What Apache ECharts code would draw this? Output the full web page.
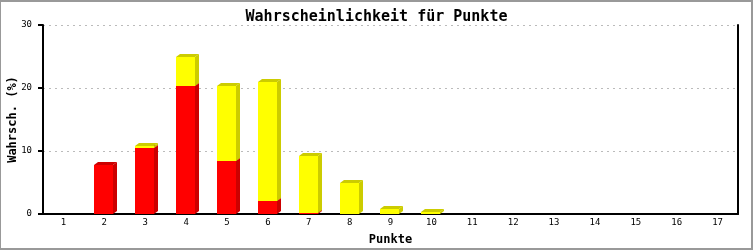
<!DOCTYPE html>
<html>
<head>
<meta charset="utf-8">
<script src="https://cdn.jsdelivr.net/npm/echarts@6/dist/echarts.min.js"></script>
<style>
html,body{margin:0;padding:0;background:#fff;}
#frame{width:753px;height:250px;box-sizing:border-box;border-style:solid;border-color:#999;border-width:2px 2px 2px 1px;position:relative;overflow:hidden;}
#chart{position:absolute;left:-1px;top:-2px;width:753px;height:250px;}
</style>
</head>
<body>
<div id="frame"><div id="chart"></div></div>
<script>
const categories = ['1','2','3','4','5','6','7','8','9','10','11','12','13','14','15','16','17'];
const redValues    = [0, 7.8, 10.5, 20.3, 8.4, 2.1, 0.15, 0, 0, 0, 0, 0, 0, 0, 0, 0, 0];
const yellowValues = [0, 0, 0.3, 4.6, 11.9, 18.85, 9.05, 5.0, 0.8, 0.35, 0, 0, 0, 0, 0, 0, 0];
const yTicks = [0, 10, 20, 30];

function segData(base, vals) {
  return vals.map((v, i) => [i, base ? base[i] : 0, (base ? base[i] : 0) + v]);
}

function makeRender(front, dark) {
  return function (params, api) {
    const lo = api.value(1), hi = api.value(2);
    if (hi - lo <= 0) return null;
    const cat = api.value(0);
    const pLo = api.coord([cat, lo]);
    const pHi = api.coord([cat, hi]);
    const w = 19, dx = 4, dy = 3;
    const x0 = Math.round(pLo[0] - 10), x1 = x0 + w;
    const yb = Math.round(pLo[1]), yt = Math.round(pHi[1]);
    return {
      type: 'group',
      children: [
        { type: 'polygon', shape: { points: [[x1, yt], [x1 + dx, yt - dy], [x1 + dx, yb - dy], [x1, yb]] }, style: { fill: dark } },
        { type: 'polygon', shape: { points: [[x0, yt], [x0 + dx, yt - dy], [x1 + dx, yt - dy], [x1, yt]] }, style: { fill: dark } },
        { type: 'rect', shape: { x: x0, y: yt, width: w, height: yb - yt }, style: { fill: front } }
      ]
    };
  };
}

const chart = echarts.init(document.getElementById('chart'));
chart.setOption({
  animation: false,
  backgroundColor: '#fff',
  title: {
    text: 'Wahrscheinlichkeit für Punkte',
    left: 'center', top: 5,
    textStyle: { fontFamily: 'DejaVu Sans Mono', fontWeight: 'bold', fontSize: 15, color: '#000' }
  },
  grid: { left: 43, right: 15, top: 25, bottom: 36, containLabel: false, outerBoundsMode: 'none' },
  xAxis: {
    type: 'category',
    data: categories,
    name: 'Punkte',
    nameLocation: 'middle',
    nameGap: 20,
    nameTextStyle: { fontFamily: 'DejaVu Sans Mono', fontWeight: 'bold', fontSize: 12, color: '#000' },
    axisLine: { lineStyle: { color: '#000', width: 2 } },
    axisTick: { show: false },
    axisLabel: { fontFamily: 'DejaVu Sans Mono', fontSize: 9, color: '#000', margin: 4 },
    splitLine: { show: false }
  },
  yAxis: [{
    type: 'value',
    min: yTicks[0], max: yTicks[yTicks.length - 1], interval: 10,
    name: 'Wahrsch. (%)',
    nameLocation: 'middle',
    nameGap: 24,
    nameMoveOverlap: false,
    nameTextStyle: { fontFamily: 'DejaVu Sans Mono', fontWeight: 'bold', fontSize: 12, color: '#000' },
    axisLine: { show: true, lineStyle: { color: '#000', width: 2 } },
    axisTick: { show: true, length: 5, lineStyle: { color: '#000', width: 2 } },
    axisLabel: { fontFamily: 'DejaVu Sans Mono', fontSize: 9, color: '#000', margin: 11 },
    splitLine: { show: true, lineStyle: { color: '#bbb', type: [2, 4], width: 1 } }
  }, {
    type: 'value',
    position: 'right',
    min: yTicks[0], max: yTicks[yTicks.length - 1], interval: 10,
    axisLine: { show: true, lineStyle: { color: '#000', width: 2 } },
    axisTick: { show: false },
    axisLabel: { show: false },
    splitLine: { show: false }
  }],
  series: [
    { type: 'custom', renderItem: makeRender('#ff0000', '#cc0000'), encode: { x: 0, y: [1, 2] }, data: segData(null, redValues), z: 2 },
    { type: 'custom', renderItem: makeRender('#ffff00', '#cccc00'), encode: { x: 0, y: [1, 2] }, data: segData(redValues, yellowValues), z: 3 }
  ]
});
</script>
</body>
</html>
